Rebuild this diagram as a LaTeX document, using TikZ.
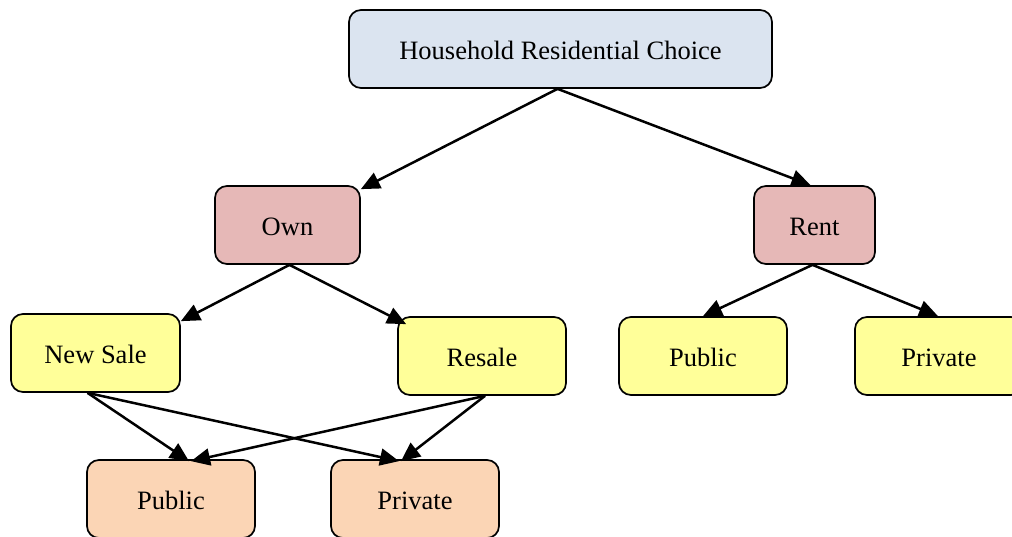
\documentclass[tikz,border=0pt]{standalone}
\usepackage{fontspec}
\setmainfont{Liberation Serif}
\usetikzlibrary{arrows.meta,calc}
\definecolor{cblue}{HTML}{DBE4F0}
\definecolor{cred}{HTML}{E6B8B7}
\definecolor{cyel}{HTML}{FFFF99}
\definecolor{corg}{HTML}{FBD5B5}
\tikzset{
  box/.style={draw=black, line width=1.7pt, rounded corners=12pt, inner sep=0pt,
    font=\fontsize{26.5}{30}\selectfont, anchor=center, text depth=0pt, text height=21pt},
  edge/.style={line width=2.5pt, -{Triangle[length=19pt,width=17pt]}}
}
\begin{document}
\begin{tikzpicture}[x=1pt,y=-1pt]
\useasboundingbox (0,0) rectangle (1012,536);
\begin{scope}
\clip (0,0) rectangle (1012,536);
\node[box, fill=cblue, minimum width=423pt, minimum height=78pt] (top) at (560.5,49) {Household Residential Choice};
\node[box, fill=cred, minimum width=145pt, minimum height=78pt] (own) at (287.5,225) {Own};
\node[box, fill=cred, minimum width=121pt, minimum height=78pt] (rent) at (814.5,225) {Rent};
\node[box, fill=cyel, minimum width=169pt, minimum height=78pt] (newsale) at (95.5,353) {New Sale};
\node[box, fill=cyel, minimum width=168pt, minimum height=78pt] (resale) at (482,356) {Resale};
\node[box, fill=cyel, minimum width=168pt, minimum height=78pt] (pubr) at (703,356) {Public};
\node[box, fill=cyel, minimum width=168pt, minimum height=78pt] (privr) at (939,356) {Private};
\node[box, fill=corg, minimum width=168pt, minimum height=78pt] (pubb) at (171,499) {Public};
\node[box, fill=corg, minimum width=168pt, minimum height=78pt] (privb) at (415,499) {Private};
\end{scope}
\draw[edge] ($(top.south)+(-3,0)$) -- ($(own.north east)+(0,4)$);
\draw[edge] ($(top.south)+(-3,0)$) -- ($(rent.north)+(-4,0)$);
\draw[edge] ($(own.south)+(2,0)$) -- ($(newsale.north east)+(0,8)$);
\draw[edge] ($(own.south)+(2,0)$) -- ($(resale.north west)+(9,8)$);
\draw[edge] ($(rent.south)+(-2,0)$) -- (pubr.north);
\draw[edge] ($(rent.south)+(-2,0)$) -- ($(privr.north)+(-1,0)$);
\draw[edge] ($(newsale.south)+(-8,0)$) -- ($(pubb.north)+(18,2)$);
\draw[edge] ($(newsale.south)+(-8,0)$) -- ($(privb.north)+(-16,2)$);
\draw[edge] ($(resale.south)+(3,0)$) -- ($(pubb.north)+(20,2)$);
\draw[edge] ($(resale.south)+(3,0)$) -- ($(privb.north)+(-14,2)$);
\end{tikzpicture}
\end{document}
